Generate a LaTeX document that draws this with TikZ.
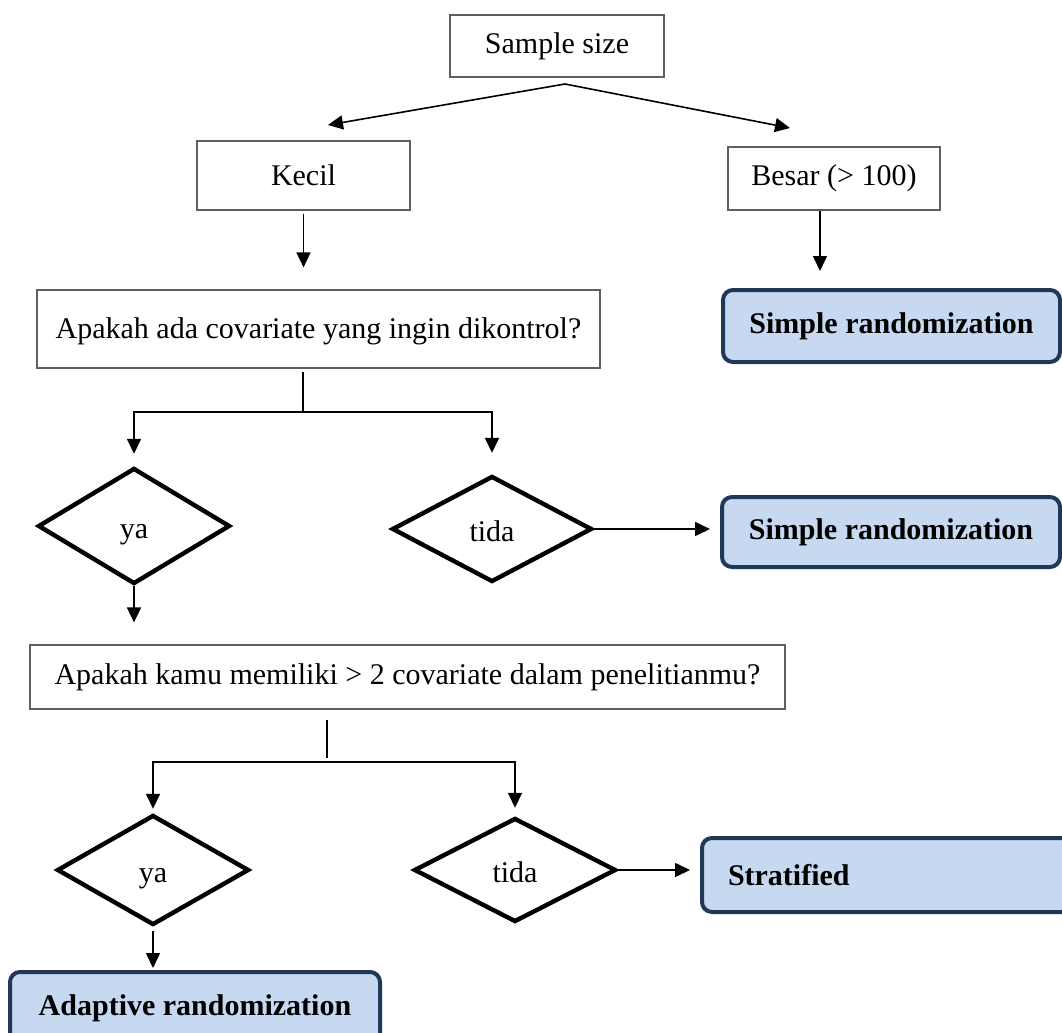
\documentclass[tikz,border=0pt]{standalone}
\usepackage{fontspec}
\setmainfont{Liberation Serif}
\usetikzlibrary{shapes.geometric, arrows.meta, calc}
\definecolor{myblue}{RGB}{198,217,240}
\definecolor{mynavy}{RGB}{31,56,88}
\definecolor{mygray}{RGB}{95,95,95}

\begin{document}
\begin{tikzpicture}[x=0.5pt, y=-0.5pt,
    every node/.style={font=\fontsize{15}{18}\selectfont},
    box/.style={draw=mygray, line width=0.6pt, inner sep=0pt},
    result/.style={draw=mynavy, fill=myblue, line width=2pt, rounded corners=5pt,
        inner sep=0pt, font=\fontsize{15}{18}\selectfont\bfseries},
    choice/.style={diamond, draw, line width=2.2pt, inner sep=0pt, text height=14pt, text depth=2pt},
    arr/.style={-{Triangle[length=7.5pt, width=7pt]}, line width=0.8pt},
    stem/.style={line width=0.8pt}]
    \useasboundingbox (0, 0) rectangle (1062, 1033);
    \clip (0, 0) rectangle (1062, 1033);
    % Sample size split
    \node[box, minimum width=107pt, minimum height=31pt] (size) at (557, 46) {Sample size};
    \node[box, minimum width=106.5pt, minimum height=34.5pt] (kecil) at (303.5, 175.5) {Kecil};
    \node[box, minimum width=106pt, minimum height=31.5pt] (besar) at (834, 178.5) {Besar (> 100)};
    \coordinate (split0) at (565, 84);
    \coordinate (tipK) at (328, 125);
    \coordinate (tipB) at (790, 128);
    \draw[arr] (split0) -- (tipK);
    \draw[arr] (split0) -- (tipB);
    % Large sample
    \node[result, minimum width=168.5pt, minimum height=36pt] (simpleA) at (891.5, 326) {Simple randomization};
    \draw[arr, shorten >=8.5pt] ([xshift=-7pt]besar.south) -- ([xshift=-7pt]besar.south |- simpleA.north);
    % Small sample: first question
    \node[box, minimum width=281.5pt, minimum height=39pt, text height=12pt, text depth=3pt] (askA) at (318.5, 329)
        {Apakah ada covariate yang ingin dikontrol?};
    \draw[arr, shorten <=1.5pt, shorten >=11pt] (kecil.south) -- (kecil.south |- askA.north);
    \coordinate (forkA) at (303, 412);
    \node[choice, minimum width=96pt, minimum height=58pt] (yaA) at (134, 526) {ya};
    \node[choice, minimum width=100pt, minimum height=53pt] (tidaA) at (492, 529) {tida};
    \draw[stem, shorten <=1.5pt] (askA.south -| forkA) -- (forkA);
    \draw[arr, shorten >=6pt] (forkA) -| (yaA.north);
    \draw[arr, shorten >=10.5pt] (forkA) -| (tidaA.north);
    \node[result, minimum width=169pt, minimum height=35pt] (simpleB) at (891, 532) {Simple randomization};
    \draw[arr, shorten >=5pt] (tidaA.east) -- (tidaA.east -| simpleB.west);
    % Second question
    \node[box, minimum width=377.5pt, minimum height=32pt] (askB) at (407.5, 677)
        {Apakah kamu memiliki > 2 covariate dalam penelitianmu?};
    \draw[arr, shorten >=11pt] (yaA.south) -- (yaA.south |- askB.north);
    \coordinate (forkB) at (327, 762);
    \node[choice, minimum width=96pt, minimum height=55pt] (yaB) at (153, 870) {ya};
    \node[choice, minimum width=101pt, minimum height=52pt] (tidaB) at (515, 870) {tida};
    \draw[stem, shorten <=5pt, shorten >=2pt] (askB.south -| forkB) -- (forkB);
    \draw[arr, shorten >=2pt] (forkB) -| (yaB.north);
    \draw[arr, shorten >=4pt] (forkB) -| (tidaB.north);
    % Outcomes
    \node[result, minimum width=199pt, minimum height=37pt, text width=173pt, align=left] (strat) at (901, 875) {Stratified};
    \draw[arr, shorten >=5pt] (tidaB.east) -- (tidaB.east -| strat.west);
    \node[result, minimum width=185pt, minimum height=36pt] (adapt) at (195, 1008) {Adaptive randomization};
    \draw[arr, shorten <=2pt, shorten >=1pt] (yaB.south) -- (yaB.south |- adapt.north);
\end{tikzpicture}
\end{document}
